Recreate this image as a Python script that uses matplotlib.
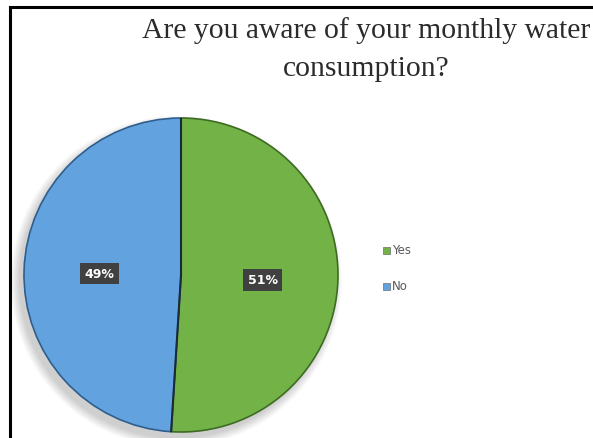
import matplotlib
matplotlib.use("Agg")
import matplotlib.pyplot as plt
import numpy as np
from matplotlib.patches import Circle
from matplotlib.lines import Line2D

title_lines = ["Are you aware of your monthly water", "consumption?"]
categories = ["Yes", "No"]
values = [51, 49]
colors = ["#72B247", "#62A3DF"]
edges = ["#3E6B22", "#2F5E8C"]

fig = plt.figure(figsize=(5.93, 4.39), dpi=100)
fig.patch.set_facecolor("white")

# frame lines along the left and top
fig.add_artist(Line2D([10 / 593, 10 / 593], [0, 1 - 8 / 439], color="black", lw=2.2,
                      transform=fig.transFigure))
fig.add_artist(Line2D([10 / 593, 1], [1 - 8 / 439, 1 - 8 / 439], color="black", lw=2.2,
                      transform=fig.transFigure))

ax = fig.add_axes([24 / 593, 6 / 439, 314 / 593, 314 / 439])

# soft drop shadow
for i in range(12):
    ax.add_patch(Circle((-0.03, -0.04), 1.0 + 0.005 * i, facecolor="#000000",
                        alpha=0.016, edgecolor="none", zorder=0, clip_on=False))

wedges, _ = ax.pie(values, colors=colors, startangle=90, counterclock=False,
                   radius=1.0, wedgeprops=dict(linewidth=1.2))
for w, ec in zip(wedges, edges):
    w.set_edgecolor(ec)
    w.set_zorder(2)
    w.set_clip_on(False)

# dark separator lines along the radii
ang = np.deg2rad(90 - 360 * values[0] / sum(values))
ax.plot([0, 0], [0, 1], color="#1B2A38", lw=1.5, zorder=3)
ax.plot([0, np.cos(ang)], [0, np.sin(ang)], color="#1B2A38", lw=1.5, zorder=3)

label_pos = [(0.52, -0.03), (-0.52, 0.01)]
for (x, y), v in zip(label_pos, values):
    ax.text(x, y, f"{v}%", ha="center", va="center", color="white",
            fontsize=9, fontweight="bold", family="DejaVu Sans", zorder=5,
            bbox=dict(boxstyle="square,pad=0.35", facecolor="#404040", edgecolor="none"))

ax.set_xlim(-1, 1)
ax.set_ylim(-1, 1)
ax.set_aspect("equal")
ax.axis("off")

for line, yy in zip(title_lines, [31, 69]):
    fig.text(366 / 593, 1 - yy / 439, line, ha="center", va="center", fontsize=21.3,
             family="Liberation Serif", color="#2b2b2b")

# legend
for lab, c, yy in zip(categories, colors, [251, 287]):
    fig.patches.append(plt.Rectangle((383 / 593, 1 - (yy + 3.5) / 439), 7 / 593, 7 / 439,
                                     facecolor=c, edgecolor="#555555", lw=0.4,
                                     transform=fig.transFigure, figure=fig))
    fig.text(392 / 593, 1 - yy / 439, lab, ha="left", va="center", fontsize=8.5,
             color="#595959", family="DejaVu Sans")

fig.savefig("out.png", dpi=100)
